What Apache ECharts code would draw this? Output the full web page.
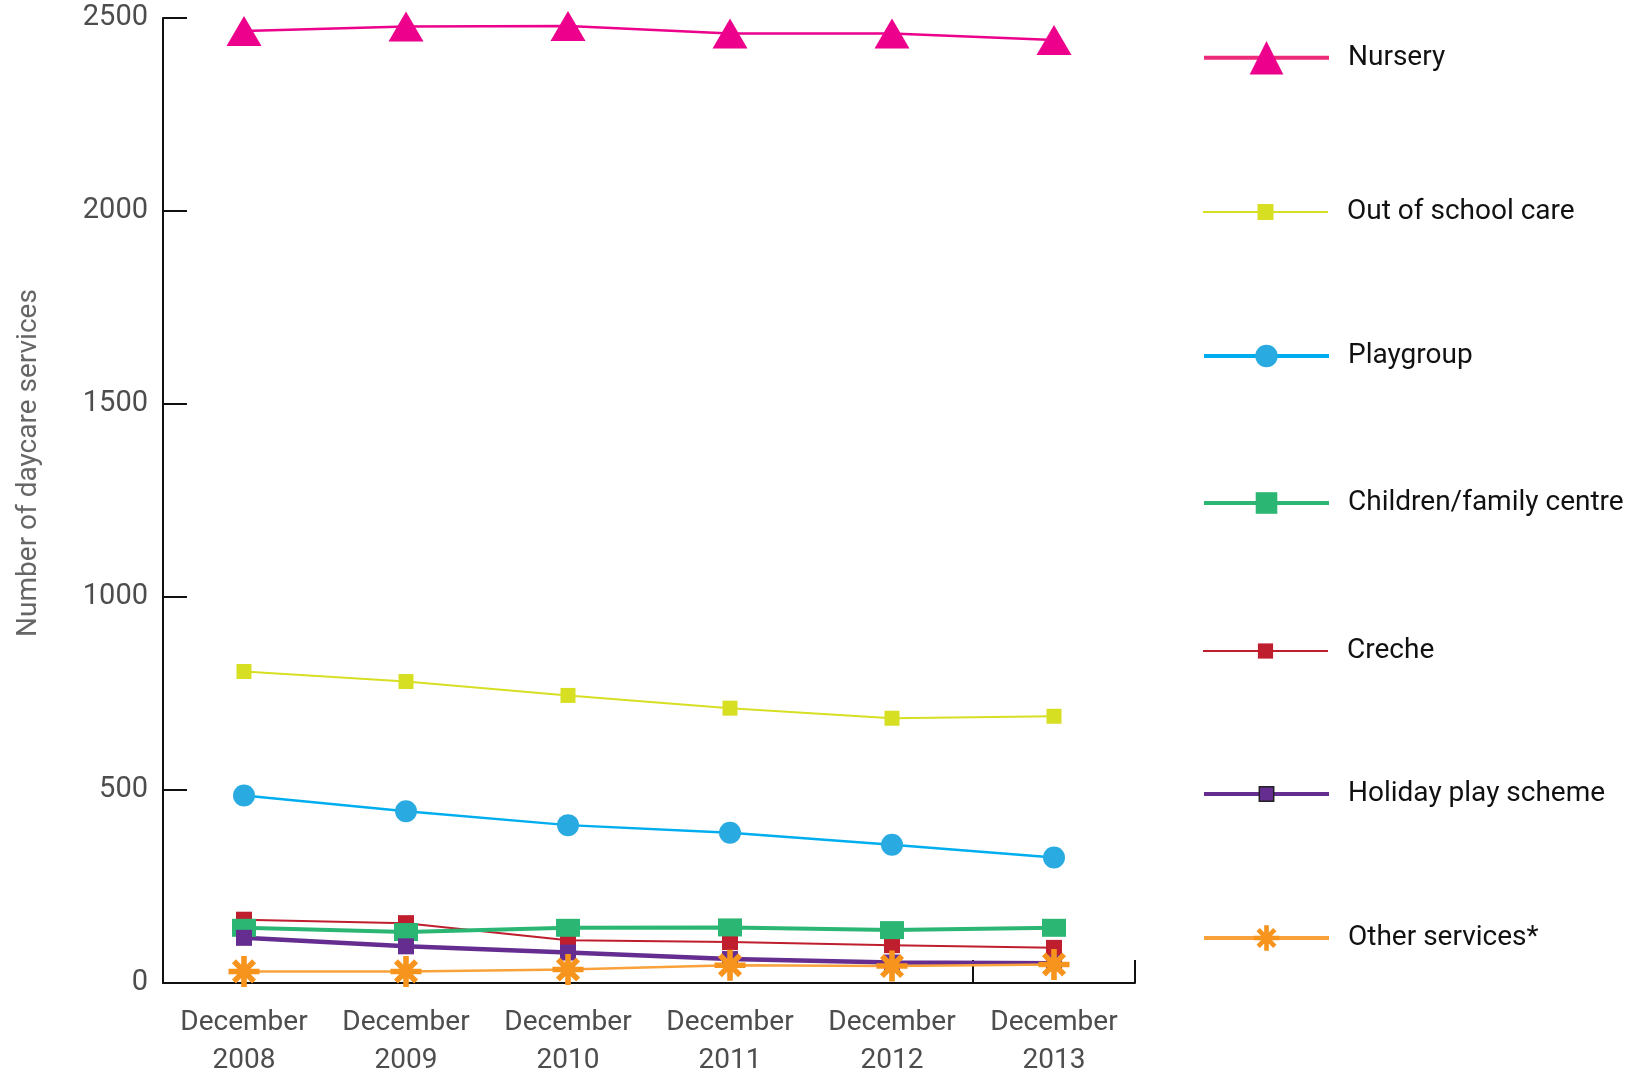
<!DOCTYPE html>
<html>
<head>
<meta charset="utf-8">
<script src="https://cdn.jsdelivr.net/npm/echarts@6/dist/echarts.min.js"></script>
<style>
html,body{margin:0;padding:0;background:#fff;}
#chart{width:1627px;height:1080px;}
</style>
</head>
<body>
<div id="chart"></div>
<script>
const categories = ['December\n2008','December\n2009','December\n2010','December\n2011','December\n2012','December\n2013'];
const nursery = [2466, 2478, 2479, 2460, 2460, 2443];
const outOfSchoolCare = [807, 781, 745, 712, 686, 691];
const playgroup = [486, 445, 409, 389, 358, 325];
const childrenFamilyCentre = [143, 132, 143, 144, 137, 143];
const creche = [164, 155, 111, 106, 98, 91];
const holidayPlayScheme = [117, 95, 79, 62, 53, 51];
const otherServices = [30, 30, 35, 46, 44, 48];
const yTicks = [0, 500, 1000, 1500, 2000, 2500];

const FONT = 'Roboto, "DejaVu Sans", sans-serif';
const starPath = 'path://M41 0H59V100H41Z M0 41H100V59H0Z M23.83 11.11L88.89 76.17L76.17 88.89L11.11 23.83Z M88.89 23.83L23.83 88.89L11.11 76.17L76.17 11.11Z';

const seriesDefs = [
  {name:'Nursery', data:nursery, color:'#EC008C', lineColor:'#EC008C', width:2.5, symbol:'triangle', size:[35,30], legendH:42, legendLine:4, legendLineColor:'#EE2A7B', cy:62},
  {name:'Out of school care', data:outOfSchoolCare, color:'#D7DF23', lineColor:'#D7DF23', width:2, symbol:'rect', size:15, legendH:20, legendLine:2, legendLineColor:'#D7DF23', cy:212},
  {name:'Playgroup', data:playgroup, color:'#29ABE2', lineColor:'#00AEEF', width:2.5, symbol:'circle', size:22, legendH:28, legendLine:4, legendLineColor:'#00AEEF', cy:356},
  {name:'Creche', data:creche, color:'#BE1E2D', lineColor:'#BE1E2D', width:2, symbol:'rect', size:16, legendH:19, legendLine:2, legendLineColor:'#BE1E2D', cy:651},
  {name:'Children/family centre', data:childrenFamilyCentre, color:'#2BB673', lineColor:'#2BB673', width:4, symbol:'rect', size:[24,18], legendH:27, legendLine:4, legendLineColor:'#2BB673', cy:503},
  {name:'Holiday play scheme', data:holidayPlayScheme, color:'#662D91', lineColor:'#662D91', width:4.5, symbol:'rect', size:16, legendH:18, legendLine:4, legendLineColor:'#662D91', cy:794, border:true},
  {name:'Other services*', data:otherServices, color:'#F7941D', lineColor:'#F9A23B', width:2.5, symbol:starPath, size:31, legendH:32, legendLine:4, legendLineColor:'#F9A23B', cy:938}
];

const TEXT_LH = 32;
const legends = seriesDefs.map(d => ({
  show: true,
  orient: 'vertical',
  left: 1202,
  top: d.cy - Math.max(d.legendH, TEXT_LH) / 2,
  padding: 0,
  itemWidth: 125,
  itemHeight: d.legendH,
  data: [d.name],
  selectedMode: false,
  lineStyle: {width: d.legendLine, color: d.legendLineColor},
  itemStyle: d.border ? {borderColor:'#222', borderWidth:1.5} : {},
  textStyle: {fontFamily: FONT, fontSize: 28, color: '#111', lineHeight: TEXT_LH, padding: [0,0,0,14]}
}));

const series = seriesDefs.map(d => ({
  name: d.name,
  type: 'line',
  data: d.data,
  symbol: d.symbol,
  symbolSize: d.size,
  showAllSymbol: true,
  lineStyle: {color: d.lineColor, width: d.width},
  itemStyle: {color: d.color},
  emphasis: {disabled: true},
  animation: false
}));

const chart = echarts.init(document.getElementById('chart'), null, {renderer:'canvas'});
chart.setOption({
  backgroundColor: '#ffffff',
  animation: false,
  grid: {left: 163, right: 492, top: 18, bottom: 92, containLabel: false},
  legend: legends,
  xAxis: [
    {
      type: 'category',
      data: categories,
      boundaryGap: true,
      axisLine: {show: true, lineStyle: {color: '#111', width: 2}},
      axisTick: {show: false},
      axisLabel: {fontFamily: FONT, fontSize: 28, color: '#4d4d4d', lineHeight: 38, margin: 21, interval: 0}
    },
    {
      type: 'value',
      position: 'bottom',
      min: 0, max: 6, interval: 5,
      axisLine: {show: false},
      axisLabel: {show: false},
      splitLine: {show: false},
      axisTick: {show: true, inside: true, length: 23, lineStyle: {color: '#111', width: 2}}
    }
  ],
  yAxis: {
    type: 'value',
    min: yTicks[0], max: yTicks[yTicks.length-1], interval: 500,
    axisLine: {show: true, lineStyle: {color: '#111', width: 2}},
    axisTick: {show: true, inside: true, length: 24, lineStyle: {color: '#111', width: 2}},
    splitLine: {show: false},
    axisLabel: {fontFamily: FONT, fontSize: 29, color: '#4d4d4d', margin: 15, padding: [12,0,0,0], formatter: v => String(v)}
  },
  graphic: [{
    type: 'text',
    x: 29, y: 463,
    rotation: Math.PI / 2,
    style: {text: 'Number of daycare services', fontFamily: FONT, fontSize: 28, fill: '#666', align: 'center', verticalAlign: 'middle'}
  }],
  series: series
});
</script>
</body>
</html>
